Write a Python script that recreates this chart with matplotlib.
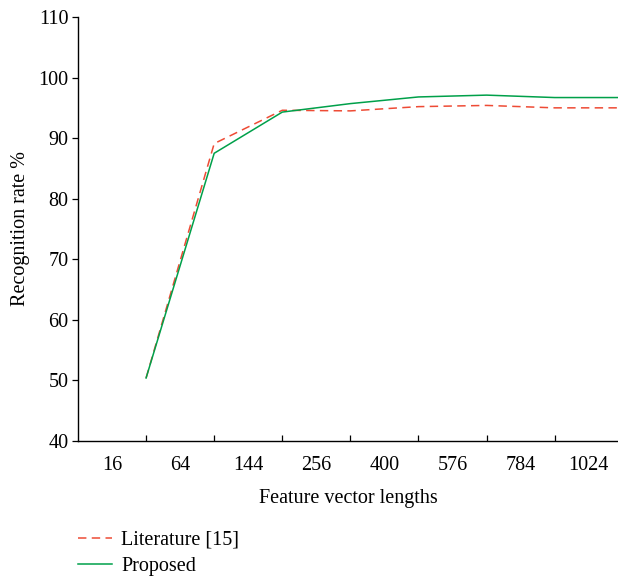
import matplotlib
matplotlib.use("Agg")
import matplotlib.pyplot as plt
from matplotlib.lines import Line2D

categories = ["16", "64", "144", "256", "400", "576", "784", "1024"]
literature = [50.4, 89.1, 94.6, 94.5, 95.2, 95.4, 95.0, 95.0]
proposed = [50.4, 87.5, 94.3, 95.7, 96.8, 97.1, 96.7, 96.7]

plt.rcParams["font.family"] = ["Liberation Serif", "DejaVu Serif"]
fs = 14.5

fig = plt.figure(figsize=(6.18, 5.76), dpi=100, facecolor="white")
ax = fig.add_axes([0.1262, 0.2344, 0.8738, 0.7361])

xs = list(range(1, len(categories) + 1))
lit_color = "#ee4b35"
prop_color = "#00a04a"
dash = (0, (5.5, 3.5))
ax.plot(xs, literature, color=lit_color, lw=1.1, ls=dash, label="Literature [15]")
ax.plot(xs, proposed, color=prop_color, lw=1.1, label="Proposed")

ax.set_xlim(0, 7.93)
ax.set_ylim(40, 110)
ax.set_yticks(range(40, 111, 10))
ax.set_xticks(range(1, len(categories)))
ax.set_xticklabels([])
ax.set_xticks([i + 0.5 for i in range(len(categories))], minor=True)
ax.set_xticklabels(categories, minor=True)
ax.tick_params(axis="x", which="major", direction="in", length=4, width=0.9)
ax.tick_params(axis="x", which="minor", length=0, pad=11, labelsize=fs)
ax.tick_params(axis="y", direction="out", length=4, width=0.9, labelsize=fs, pad=3)

for s in ("top", "right"):
    ax.spines[s].set_visible(False)
for s in ("left", "bottom"):
    ax.spines[s].set_linewidth(1.0)

ax.set_xlabel("Feature vector lengths", fontsize=fs, labelpad=10)
ax.set_ylabel("Recognition rate %", fontsize=fs, labelpad=6)

handles = [Line2D([], [], color=lit_color, lw=1.1, ls=dash),
           Line2D([], [], color=prop_color, lw=1.1)]
fig.legend(handles, ["Literature [15]", "Proposed"], loc="lower left",
           bbox_to_anchor=(0.097, -0.031), frameon=False, fontsize=fs,
           handlelength=1.7, handletextpad=0.45, labelspacing=0.35)

fig.savefig("out.png", dpi=100, facecolor="white")
